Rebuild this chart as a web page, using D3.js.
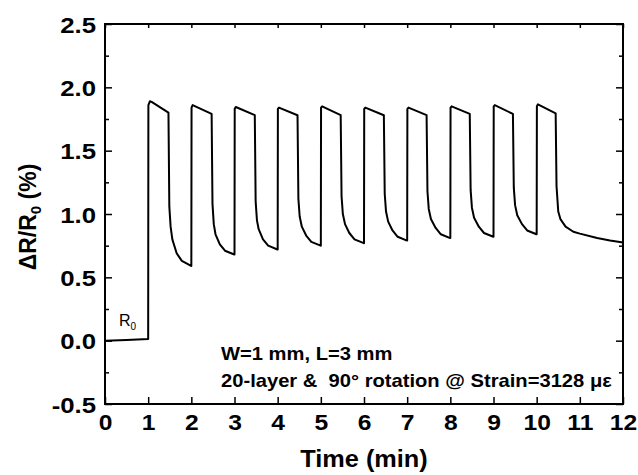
<!DOCTYPE html>
<html>
<head>
<meta charset="utf-8">
<script src="https://cdn.jsdelivr.net/npm/d3@7"></script>
<style>
  body { margin: 0; background: #fff; }
  text { font-family: "Liberation Sans", Arial, sans-serif; }
</style>
</head>
<body>
<div id="chart"></div>
<script>
// time (min) and dR/R0 (%)
var timeMin = [
  0, 0.5, 1.0,
  1.005, 1.04, 1.08, 1.47, 1.49, 1.52, 1.56, 1.66, 1.78, 1.995,
  2.0, 2.005, 2.03, 2.47, 2.49, 2.52, 2.56, 2.66, 2.78, 2.995,
  3.0, 3.005, 3.03, 3.47, 3.49, 3.52, 3.56, 3.66, 3.78, 3.995,
  4.0, 4.005, 4.03, 4.46, 4.48, 4.51, 4.56, 4.66, 4.78, 4.995,
  5.0, 5.005, 5.03, 5.46, 5.48, 5.51, 5.56, 5.66, 5.78, 5.995,
  6.0, 6.005, 6.03, 6.46, 6.48, 6.51, 6.56, 6.66, 6.78, 6.995,
  7.0, 7.005, 7.03, 7.45, 7.47, 7.50, 7.55, 7.66, 7.78, 7.995,
  8.0, 8.005, 8.03, 8.45, 8.47, 8.50, 8.55, 8.66, 8.78, 8.995,
  9.0, 9.005, 9.03, 9.45, 9.47, 9.50, 9.55, 9.66, 9.78, 9.995,
  10.0, 10.005, 10.03, 10.44, 10.46, 10.50, 10.55, 10.67, 10.85, 11.0, 11.4, 11.7, 12.0
];
var dRR0 = [
  0.0, 0.006, 0.013,
  1.86, 1.89, 1.885, 1.80, 1.06, 0.90, 0.80, 0.69, 0.63, 0.59,
  0.59, 1.84, 1.86, 1.79, 1.08, 0.92, 0.84, 0.76, 0.71, 0.68,
  0.68, 1.83, 1.845, 1.78, 1.10, 0.95, 0.88, 0.80, 0.75, 0.72,
  0.72, 1.83, 1.84, 1.78, 1.12, 0.98, 0.90, 0.83, 0.78, 0.75,
  0.75, 1.84, 1.85, 1.78, 1.14, 1.00, 0.92, 0.85, 0.80, 0.77,
  0.77, 1.83, 1.84, 1.78, 1.16, 1.02, 0.94, 0.87, 0.82, 0.79,
  0.79, 1.83, 1.84, 1.78, 1.18, 1.04, 0.96, 0.89, 0.84, 0.81,
  0.81, 1.84, 1.85, 1.79, 1.19, 1.05, 0.97, 0.90, 0.85, 0.82,
  0.82, 1.85, 1.86, 1.79, 1.21, 1.07, 0.99, 0.92, 0.87, 0.84,
  0.84, 1.85, 1.866, 1.795, 1.22, 1.02, 0.96, 0.90, 0.86, 0.845, 0.81, 0.79, 0.775
];
var xTicks = [0, 1, 2, 3, 4, 5, 6, 7, 8, 9, 10, 11, 12];
var yTicks = [-0.5, 0.0, 0.5, 1.0, 1.5, 2.0, 2.5];
var yMinor = [-0.25, 0.25, 0.75, 1.25, 1.75, 2.25];
var noteLines = ["W=1 mm, L=3 mm", "20-layer &  90\u00b0 rotation @ Strain=3128 \u03bc\u03b5"];

var width = 638, height = 475;
var margin = { top: 24, right: 15, bottom: 71, left: 105 };
var w = width - margin.left - margin.right;
var h = height - margin.top - margin.bottom;
var stretch = "scale(1.12,1)"; // glyphs in the original are a bit wide

var svg = d3.select("#chart").append("svg")
    .attr("width", width)
    .attr("height", height);

var g = svg.append("g")
    .attr("transform", "translate(" + margin.left + "," + margin.top + ")");

var x = d3.scaleLinear().domain([0, 12]).range([0, w]);
var y = d3.scaleLinear().domain([-0.5, 2.5]).range([h, 0]);

var data = timeMin.map(function(t, i) { return { t: t, v: dRR0[i] }; });

// axes, ticks inward
var bottom = g.append("g")
    .attr("transform", "translate(0," + h + ")")
    .call(d3.axisBottom(x).tickValues(xTicks).tickFormat(d3.format("d")).tickSize(-7).tickPadding(10));
var top = g.append("g")
    .call(d3.axisTop(x).tickValues(xTicks).tickFormat("").tickSize(-4));
var left = g.append("g")
    .call(d3.axisLeft(y).tickValues(yTicks)
        .tickFormat(function(d) { return d.toFixed(1); })
        .tickSize(-7).tickPadding(8));
var leftMinor = g.append("g")
    .call(d3.axisLeft(y).tickValues(yMinor).tickFormat("").tickSize(-4));
var right = g.append("g")
    .attr("transform", "translate(" + w + ",0)")
    .call(d3.axisRight(y).tickValues(yTicks).tickFormat("").tickSize(-7));
var rightMinor = g.append("g")
    .attr("transform", "translate(" + w + ",0)")
    .call(d3.axisRight(y).tickValues(yMinor).tickFormat("").tickSize(-4));

g.selectAll(".domain").remove();
g.selectAll(".tick line").attr("stroke", "#000").attr("stroke-width", 1.5);
g.selectAll(".tick text")
    .attr("fill", "#000")
    .attr("transform", stretch)
    .style("font-size", "22px")
    .style("font-weight", "bold");
left.selectAll(".tick text").attr("dy", "0.36em").style("font-size", "23px");

// frame
g.append("rect")
    .attr("width", w)
    .attr("height", h)
    .attr("fill", "none")
    .attr("stroke", "#000")
    .attr("stroke-width", 2);

var line = d3.line()
    .x(function(d) { return x(d.t); })
    .y(function(d) { return y(d.v); });

g.append("path")
    .datum(data)
    .attr("d", line)
    .attr("fill", "none")
    .attr("stroke", "#000")
    .attr("stroke-width", 2)
    .attr("stroke-linejoin", "round");

// R0 label
var r0 = g.append("text")
    .attr("x", 14)
    .attr("y", 302)
    .style("font-size", "16px");
r0.append("tspan").text("R");
r0.append("tspan").attr("dy", 4).style("font-size", "10px").text("0");

// notes
g.selectAll(".note")
    .data(noteLines)
    .enter()
    .append("text")
    .attr("class", "note")
    .attr("transform", function(d, i) { return "translate(116," + (336 + i * 27) + ") " + stretch; })
    .style("font-size", "18px")
    .style("font-weight", "bold")
    .style("white-space", "pre")
    .text(function(d) { return d; });

// axis titles
svg.append("text")
    .attr("transform", "translate(" + (margin.left + w / 2) + ",467) scale(1.1,1)")
    .attr("text-anchor", "middle")
    .style("font-size", "23px")
    .style("font-weight", "bold")
    .text("Time (min)");

var yt = svg.append("text")
    .attr("transform", "translate(36," + (margin.top + h / 2 + 3) + ") rotate(-90)")
    .attr("text-anchor", "middle")
    .style("font-size", "23px")
    .style("font-weight", "bold");
yt.append("tspan").text("\u0394R/R");
yt.append("tspan").attr("dy", 5).style("font-size", "15px").text("0");
yt.append("tspan").attr("dy", -5).text(" (%)");
</script>
</body>
</html>
